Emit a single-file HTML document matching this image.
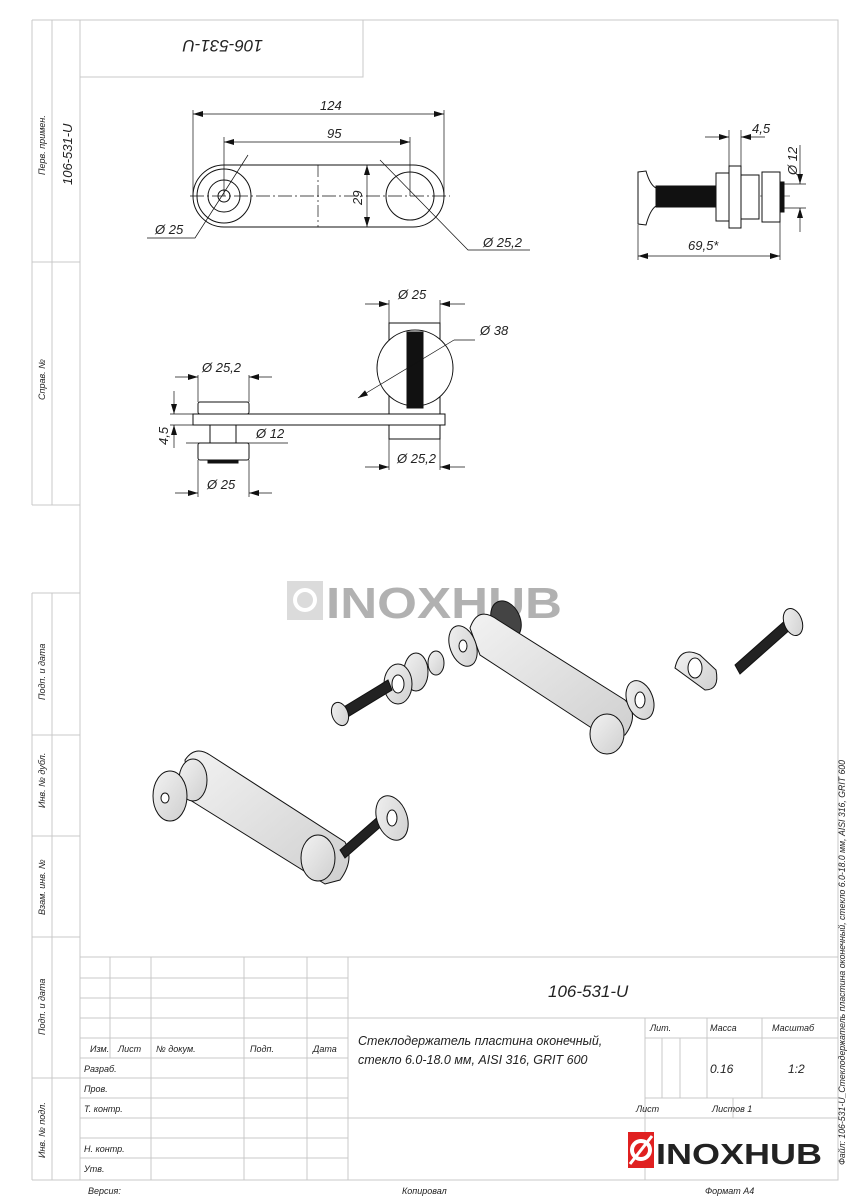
<!DOCTYPE html>
<html><head><meta charset="utf-8"><style>
html,body{margin:0;padding:0;background:#fff}
svg{display:block}
text{font-family:"Liberation Sans","DejaVu Sans",sans-serif;font-style:italic;fill:#222}
text.n{font-style:normal;font-weight:bold}
</style></head><body>
<svg width="848" height="1200" viewBox="0 0 848 1200" xmlns="http://www.w3.org/2000/svg">
<defs>
<marker id="a" viewBox="0 0 10 6" refX="10" refY="3" markerWidth="10" markerHeight="6" orient="auto-start-reverse" markerUnits="userSpaceOnUse"><path d="M0,0L10,3L0,6z" fill="#111"/></marker>
<linearGradient id="g" x1="0" y1="0" x2="1" y2="1"><stop offset="0" stop-color="#f2f2f2"/><stop offset="1" stop-color="#cfcfcf"/></linearGradient>
</defs>
<g fill="none" stroke="#c8c8c8" stroke-width="1">
<rect x="80" y="20" width="758" height="1160"/>
<rect x="80" y="20" width="283" height="57"/>
<line x1="32" y1="20" x2="80" y2="20"/>
<line x1="32" y1="20" x2="32" y2="505"/><line x1="52" y1="20" x2="52" y2="505"/>
<line x1="32" y1="262" x2="80" y2="262"/><line x1="32" y1="505" x2="80" y2="505"/>
<line x1="32" y1="593" x2="32" y2="1180"/><line x1="52" y1="593" x2="52" y2="1180"/>
<line x1="32" y1="593" x2="80" y2="593"/><line x1="32" y1="735" x2="80" y2="735"/>
<line x1="32" y1="836" x2="80" y2="836"/><line x1="32" y1="937" x2="80" y2="937"/>
<line x1="32" y1="1078" x2="80" y2="1078"/><line x1="32" y1="1180" x2="80" y2="1180"/>
<line x1="80" y1="957" x2="838" y2="957"/>
<line x1="80" y1="978" x2="348" y2="978"/><line x1="80" y1="998" x2="348" y2="998"/>
<line x1="80" y1="1018" x2="838" y2="1018"/><line x1="80" y1="1038" x2="348" y2="1038"/>
<line x1="80" y1="1058" x2="348" y2="1058"/><line x1="80" y1="1078" x2="348" y2="1078"/>
<line x1="80" y1="1098" x2="348" y2="1098"/><line x1="80" y1="1118" x2="838" y2="1118"/>
<line x1="80" y1="1138" x2="348" y2="1138"/><line x1="80" y1="1158" x2="348" y2="1158"/>
<line x1="645" y1="1038" x2="838" y2="1038"/><line x1="645" y1="1098" x2="838" y2="1098"/>
<line x1="110" y1="957" x2="110" y2="1058"/><line x1="151" y1="957" x2="151" y2="1180"/>
<line x1="244" y1="957" x2="244" y2="1180"/><line x1="307" y1="957" x2="307" y2="1180"/>
<line x1="348" y1="957" x2="348" y2="1180"/>
<line x1="645" y1="1018" x2="645" y2="1180"/><line x1="707" y1="1018" x2="707" y2="1098"/>
<line x1="762" y1="1018" x2="762" y2="1098"/><line x1="733" y1="1098" x2="733" y2="1118"/>
<line x1="662" y1="1038" x2="662" y2="1098"/><line x1="680" y1="1038" x2="680" y2="1098"/>
</g>
<g font-size="9">
<text x="90" y="1052">Изм.</text><text x="118" y="1052">Лист</text><text x="156" y="1052">№ докум.</text>
<text x="250" y="1052">Подп.</text><text x="313" y="1052">Дата</text>
<text x="84" y="1072">Разраб.</text><text x="84" y="1092">Пров.</text><text x="84" y="1112">Т. контр.</text>
<text x="84" y="1152">Н. контр.</text><text x="84" y="1172">Утв.</text>
<text x="650" y="1031">Лит.</text><text x="710" y="1031">Масса</text><text x="772" y="1031">Масштаб</text>
<text x="710" y="1073" font-size="12">0.16</text><text x="788" y="1073" font-size="12">1:2</text>
<text x="636" y="1112">Лист</text><text x="712" y="1112">Листов 1</text>
<text x="88" y="1194">Версия:</text><text x="402" y="1194">Копировал</text><text x="705" y="1194">Формат А4</text>
</g>
<text x="548" y="997" font-size="17">106-531-U</text>
<text x="358" y="1045" font-size="12.5">Стеклодержатель пластина оконечный,</text>
<text x="358" y="1064" font-size="12.5">стекло 6.0-18.0 мм, AISI 316, GRIT 600</text>
<g><rect x="628" y="1132" width="26" height="36" fill="#e02020"/><circle cx="641" cy="1150" r="9" fill="none" stroke="#fff" stroke-width="4"/><line x1="630" y1="1164" x2="652" y2="1136" stroke="#fff" stroke-width="3"/>
<text class="n" x="656" y="1164" font-size="29" textLength="166" lengthAdjust="spacingAndGlyphs">INOXHUB</text></g>
<g font-size="9">
<text transform="translate(45,175) rotate(-90)">Перв. примен.</text>
<text transform="translate(72,185) rotate(-90)" font-size="13">106-531-U</text>
<text transform="translate(45,400) rotate(-90)">Справ. №</text>
<text transform="translate(45,700) rotate(-90)">Подп. и дата</text>
<text transform="translate(45,808) rotate(-90)">Инв. № дубл.</text>
<text transform="translate(45,915) rotate(-90)">Взам. инв. №</text>
<text transform="translate(45,1035) rotate(-90)">Подп. и дата</text>
<text transform="translate(45,1158) rotate(-90)">Инв. № подл.</text>
<text transform="translate(845,1165) rotate(-90)" font-size="9.5" textLength="405" lengthAdjust="spacingAndGlyphs">Файл: 106-531-U_Стеклодержатель пластина оконечный, стекло 6.0-18.0 мм, AISI 316, GRIT 600</text>
</g>
<text transform="translate(263,40) rotate(180)" font-size="17">106-531-U</text>
<g fill="none" stroke="#111" stroke-width="1">
<rect x="193" y="165" width="251" height="62" rx="31"/>
<circle cx="224" cy="196" r="27"/><circle cx="224" cy="196" r="16"/><circle cx="224" cy="196" r="6"/>
<circle cx="410" cy="196" r="24"/>
<line x1="318" y1="165" x2="318" y2="227" stroke-dasharray="12,3,2,3" stroke-width="0.7"/>
<line x1="190" y1="196" x2="450" y2="196" stroke-dasharray="14,3,2,3" stroke-width="0.7"/>
<line x1="193" y1="110" x2="193" y2="196" stroke-width="0.7"/><line x1="444" y1="110" x2="444" y2="196" stroke-width="0.7"/>
<line x1="224" y1="137" x2="224" y2="196" stroke-width="0.7"/><line x1="410" y1="137" x2="410" y2="196" stroke-width="0.7"/>
<line x1="193" y1="114" x2="444" y2="114" marker-start="url(#a)" marker-end="url(#a)" stroke-width="0.7"/>
<line x1="224" y1="142" x2="410" y2="142" marker-start="url(#a)" marker-end="url(#a)" stroke-width="0.7"/>
<line x1="367" y1="165" x2="367" y2="227" marker-start="url(#a)" marker-end="url(#a)" stroke-width="0.7"/>
<polyline points="147,238 195,238 248,155" stroke-width="0.7"/>
<polyline points="380,160 468,250 530,250" stroke-width="0.7"/>
</g>
<g font-size="13"><text x="320" y="110">124</text><text x="327" y="138">95</text>
<text transform="translate(362,205) rotate(-90)">29</text>
<text x="155" y="234">Ø 25</text><text x="483" y="247">Ø 25,2</text></g>
<g stroke="#111" stroke-width="1" fill="#fff">
<line x1="639" y1="196" x2="790" y2="196" stroke-dasharray="10,3,2,3" stroke-width="0.6"/>
<path d="M638,172 L646,171 Q650,185 656,188 L656,206 Q650,210 646,225 L638,224 Z"/>
<rect x="656" y="186" width="60" height="21" fill="#111"/>
<rect x="716" y="173" width="13" height="48"/>
<rect x="729" y="166" width="12" height="62"/>
<rect x="741" y="175" width="18" height="44"/>
<rect x="762" y="172" width="18" height="50"/>
<rect x="780" y="182" width="4" height="30" fill="#111"/>
<g fill="none" stroke-width="0.7">
<line x1="638" y1="225" x2="638" y2="260"/><line x1="780" y1="222" x2="780" y2="260"/>
<line x1="638" y1="256" x2="780" y2="256" marker-start="url(#a)" marker-end="url(#a)"/>
<line x1="729" y1="130" x2="729" y2="166"/><line x1="741" y1="130" x2="741" y2="166"/>
<line x1="705" y1="137" x2="729" y2="137" marker-end="url(#a)"/><line x1="765" y1="137" x2="741" y2="137" marker-end="url(#a)"/>
<line x1="780" y1="184" x2="806" y2="184"/><line x1="780" y1="208" x2="806" y2="208"/>
<line x1="800" y1="145" x2="800" y2="184" marker-end="url(#a)"/><line x1="800" y1="232" x2="800" y2="208" marker-end="url(#a)"/>
</g></g>
<g font-size="13"><text x="752" y="133">4,5</text><text x="688" y="250">69,5*</text>
<text transform="translate(797,175) rotate(-90)">Ø 12</text></g>
<g stroke="#111" stroke-width="1" fill="#fff">
<rect x="389" y="323" width="51" height="91"/>
<rect x="389" y="425" width="51" height="14"/>
<circle cx="415" cy="368" r="38"/>
<rect x="407" y="332" width="16" height="76" fill="#111"/>
<rect x="198" y="402" width="51" height="12" rx="2"/>
<rect x="193" y="414" width="252" height="11"/>
<rect x="210" y="425" width="26" height="18"/>
<rect x="198" y="443" width="51" height="17" rx="2"/>
<rect x="208" y="460" width="30" height="3" fill="#111"/>
<g fill="none" stroke-width="0.7">
<line x1="389" y1="300" x2="389" y2="323"/><line x1="440" y1="300" x2="440" y2="323"/>
<line x1="365" y1="304" x2="389" y2="304" marker-end="url(#a)"/><line x1="465" y1="304" x2="440" y2="304" marker-end="url(#a)"/>
<line x1="389" y1="439" x2="389" y2="470"/><line x1="440" y1="439" x2="440" y2="470"/>
<line x1="365" y1="467" x2="389" y2="467" marker-end="url(#a)"/><line x1="465" y1="467" x2="440" y2="467" marker-end="url(#a)"/>
<line x1="198" y1="375" x2="198" y2="402"/><line x1="249" y1="375" x2="249" y2="402"/>
<line x1="175" y1="377" x2="198" y2="377" marker-end="url(#a)"/><line x1="272" y1="377" x2="249" y2="377" marker-end="url(#a)"/>
<line x1="198" y1="460" x2="198" y2="497"/><line x1="249" y1="460" x2="249" y2="497"/>
<line x1="175" y1="493" x2="198" y2="493" marker-end="url(#a)"/><line x1="272" y1="493" x2="249" y2="493" marker-end="url(#a)"/>
<line x1="170" y1="414" x2="193" y2="414"/><line x1="170" y1="425" x2="193" y2="425"/>
<line x1="174" y1="391" x2="174" y2="414" marker-end="url(#a)"/><line x1="174" y1="448" x2="174" y2="425" marker-end="url(#a)"/>
<line x1="186" y1="443" x2="288" y2="443"/>
<line x1="358" y1="398" x2="454" y2="340" marker-start="url(#a)"/><line x1="454" y1="340" x2="475" y2="340"/>
</g></g>
<g font-size="13"><text x="398" y="299">Ø 25</text><text x="202" y="372">Ø 25,2</text><text x="480" y="335">Ø 38</text>
<text x="256" y="438">Ø 12</text><text x="397" y="463">Ø 25,2</text><text x="207" y="489">Ø 25</text>
<text transform="translate(168,445) rotate(-90)">4,5</text></g>
<g opacity="0.35"><rect x="287" y="581" width="36" height="39" fill="#999"/><circle cx="305" cy="600" r="10" fill="none" stroke="#fff" stroke-width="4"/>
<text class="n" x="326" y="618" font-size="44" fill="#888" textLength="236" lengthAdjust="spacingAndGlyphs">INOXHUB</text></g>
<g stroke="#111" stroke-width="1" fill="url(#g)">
<ellipse cx="506" cy="620" rx="14" ry="20" transform="rotate(-25 506 620)" fill="#444"/>
<path d="M470,628 Q478,605 498,620 L625,700 Q640,715 625,735 L610,740 L480,655 Z"/>
<ellipse cx="463" cy="646" rx="13" ry="21" transform="rotate(-20 463 646)"/>
<ellipse cx="463" cy="646" rx="4" ry="6" fill="#fff"/>
<ellipse cx="436" cy="663" rx="8" ry="12"/>
<ellipse cx="416" cy="672" rx="12" ry="19"/>
<ellipse cx="398" cy="684" rx="14" ry="20"/>
<ellipse cx="398" cy="684" rx="6" ry="9" fill="#fff"/>
<path d="M342,708 L388,680 L392,690 L346,718 Z" fill="#222"/>
<ellipse cx="340" cy="714" rx="8" ry="12" transform="rotate(-20 340 714)"/>
<ellipse cx="640" cy="700" rx="13" ry="20" transform="rotate(-20 640 700)"/>
<ellipse cx="640" cy="700" rx="5" ry="8" fill="#fff"/>
<ellipse cx="607" cy="734" rx="17" ry="20"/>
<path d="M735,665 L788,618 L793,627 L740,674 Z" fill="#222"/>
<ellipse cx="793" cy="622" rx="9" ry="14" transform="rotate(-20 793 622)"/>
<path d="M675,668 Q680,645 700,655 L716,670 Q720,690 705,690 Z"/>
<ellipse cx="695" cy="668" rx="7" ry="10" fill="#fff"/>
</g>
<g stroke="#111" stroke-width="1" fill="url(#g)">
<path d="M185,760 Q195,745 210,755 L345,842 Q355,860 340,880 L325,884 L190,800 Z"/>
<ellipse cx="193" cy="780" rx="14" ry="21"/>
<ellipse cx="170" cy="796" rx="17" ry="25"/>
<ellipse cx="165" cy="798" rx="4" ry="5" fill="#fff"/>
<path d="M340,850 L380,815 L385,823 L345,858 Z" fill="#222"/>
<ellipse cx="392" cy="818" rx="15" ry="23" transform="rotate(-20 392 818)"/>
<ellipse cx="392" cy="818" rx="5" ry="8" fill="#fff"/>
<ellipse cx="318" cy="858" rx="17" ry="23"/>
</g>
</svg>
</body></html>
